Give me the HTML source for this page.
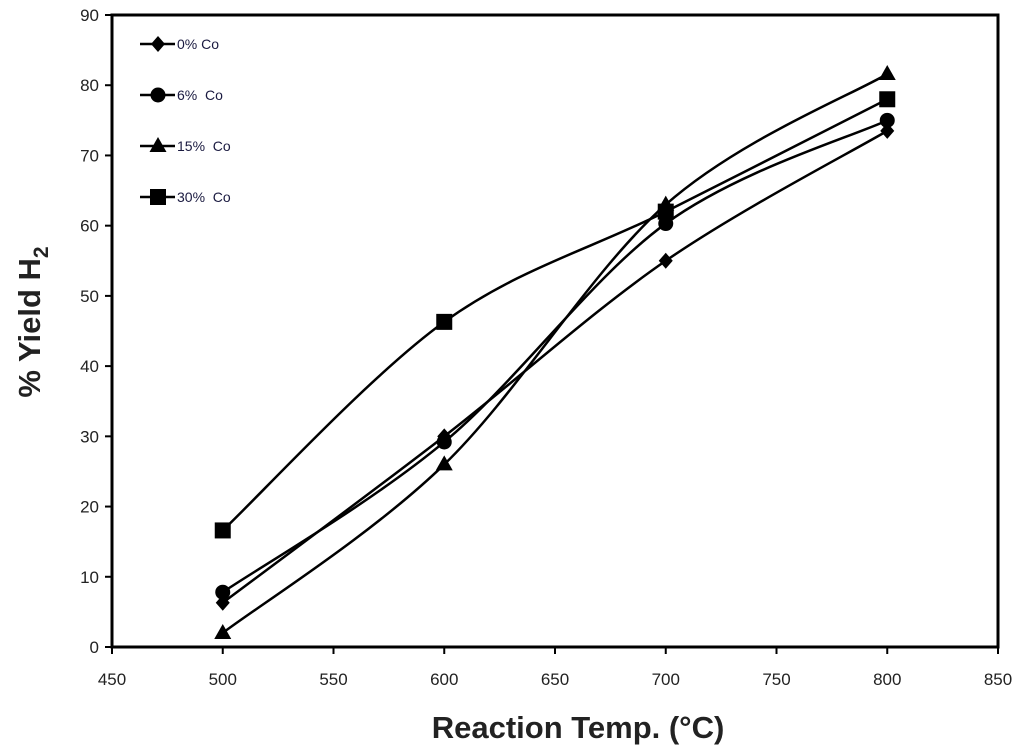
<!DOCTYPE html>
<html><head><meta charset="utf-8"><style>
body{margin:0;background:#fff;}
svg{display:block;font-family:"Liberation Sans",Arial,sans-serif;}
</style></head><body>
<svg id="chart" width="1024" height="753" viewBox="0 0 1024 753">
<rect x="112" y="15" width="886" height="632" fill="#fff" stroke="#000" stroke-width="3"/>
<g id="axes"></g>
<g id="series"></g>
<g id="legend"></g>
<text x="578" y="738" text-anchor="middle" font-size="31" font-weight="bold" fill="#222">Reaction Temp. (°C)</text>
<text transform="translate(40,322) rotate(-90)" text-anchor="middle" font-size="31" font-weight="bold" fill="#222">% Yield H<tspan font-size="21" dy="8">2</tspan></text>
</svg>
<script>
const categories=[500,600,700,800];
const seriesNames=["0% Co","6%  Co","15%  Co","30%  Co"];
const s0=[6.3,30,55,73.5];
const s1=[7.8,29.2,60.3,75];
const s2=[2,26,63,81.6];
const s3=[16.6,46.3,62,78];
const xTicks=[450,500,550,600,650,700,750,800,850];
const yTicks=[0,10,20,30,40,50,60,70,80,90];
const NS="http://www.w3.org/2000/svg";
const X=v=>112+(v-450)/400*886;
const Y=v=>647-v/90*632;
function mk(t,a,p){const e=document.createElementNS(NS,t);for(const k in a)e.setAttribute(k,a[k]);p.appendChild(e);return e;}
const ax=document.getElementById('axes');
xTicks.forEach(t=>{
 const l=mk('line',{x1:X(t),x2:X(t),y1:647,y2:654,stroke:'#000','stroke-width':2},ax);
 
 
 const tx=mk('text',{x:X(t),y:685,'text-anchor':'middle','font-size':17,fill:'#222'},ax);tx.textContent=t;
 
 
});
yTicks.forEach(t=>{
 const l=mk('line',{x1:105,x2:112,y1:Y(t),y2:Y(t),stroke:'#000','stroke-width':2},ax);
 
 
 const tx=mk('text',{x:99,y:Y(t)+6,'text-anchor':'end','font-size':17,fill:'#222'},ax);tx.textContent=t;
 
 
});
function marker(kind,x,y,p){
 let e;
 if(kind==0)e=mk('polygon',{points:`${x},${y-8} ${x+7},${y} ${x},${y+8} ${x-7},${y}`,fill:'#000'},p);
 else if(kind==1)e=mk('circle',{cx:x,cy:y,r:7.5,fill:'#000'},p);
 else if(kind==2)e=mk('polygon',{points:`${x},${y-9} ${x+8.5},${y+6} ${x-8.5},${y+6}`,fill:'#000'},p);
 else e=mk('rect',{x:x-8,y:y-8,width:16,height:16,fill:'#000'},p);
 return e;
}
function smooth(pts){
 let d=`M${pts[0][0]},${pts[0][1]}`;
 for(let i=0;i<pts.length-1;i++){
  const p0=pts[Math.max(0,i-1)],p1=pts[i],p2=pts[i+1],p3=pts[Math.min(pts.length-1,i+2)];
  const c1=[p1[0]+(p2[0]-p0[0])/6,p1[1]+(p2[1]-p0[1])/6];
  const c2=[p2[0]-(p3[0]-p1[0])/6,p2[1]-(p3[1]-p1[1])/6];
  d+=` C${c1[0]},${c1[1]} ${c2[0]},${c2[1]} ${p2[0]},${p2[1]}`;
 }
 return d;
}
const sg=document.getElementById('series');
[s0,s1,s2,s3].forEach((s,k)=>{
 const pts=s.map((v,i)=>[X(categories[i]),Y(v)]);
 const path=mk('path',{d:smooth(pts),fill:'none',stroke:'#000','stroke-width':2.5},sg);
 
 
 pts.forEach(p=>{const m=marker(k,p[0],p[1],sg);
  
  });
});
const lg=document.getElementById('legend');
seriesNames.forEach((n,k)=>{
 const y=44+k*51;
 const l=mk('line',{x1:140,x2:175,y1:y,y2:y,stroke:'#000','stroke-width':2.5},lg);
 
 
 const m=marker(k,158,y,lg);
 
 
 const t=mk('text',{x:177,y:y+5,'font-size':14,fill:'#1a1a40'},lg);
 t.style.whiteSpace='pre';t.textContent=n;
 
 
});
</script>
</body></html>
